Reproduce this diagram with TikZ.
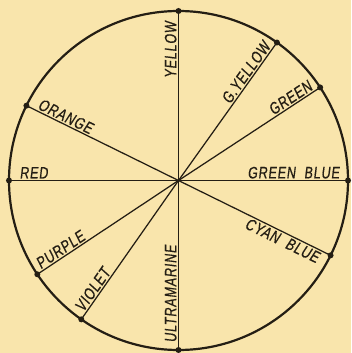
\documentclass[tikz,border=0pt]{standalone}
\usepackage{fontspec}
\newfontfamily\lblfont{Liberation Sans}[FakeStretch=0.76,FakeSlant=0.12,FakeBold=0.6,LetterSpace=5]
\definecolor{paper}{RGB}{249,229,172}
\definecolor{ink}{RGB}{36,30,20}

\begin{document}
\begin{tikzpicture}[x=1pt, y=1pt,
    lbl/.style={font=\lblfont\fontsize{16.5}{16.5}\selectfont, text=ink, inner xsep=0pt, inner ysep=1.8pt},
    spoke/.style={ink, line width=1.25pt}]
    \fill[paper] (-178.5,-172.5) rectangle (172.5,180.5);

    \coordinate (o) at (0,0);
    \coordinate (yellow) at (90:169.5);
    \coordinate (gyellow) at (54.5:169.5);
    \coordinate (green) at (33.3:169.5);
    \coordinate (greenblue) at (0:169.5);
    \coordinate (cyanblue) at (-26.2:169.5);
    \coordinate (ultramarine) at (-90:169.5);
    \coordinate (violet) at (235:169.5);
    \coordinate (purple) at (213.6:169.5);
    \coordinate (red) at (180:169.5);
    \coordinate (orange) at (153.8:169.5);

    \draw[ink, line width=2.2pt] (o) circle (169.5);

    % spokes
    \draw[spoke] (yellow) -- (o);
    \draw[spoke] (gyellow) -- (o);
    \draw[spoke] (green) -- (o);
    \draw[spoke] (greenblue) -- (o);
    \draw[spoke] (cyanblue) -- (o);
    \draw[spoke] (ultramarine) -- (o);
    \draw[spoke] (violet) -- (o);
    \draw[spoke] (purple) -- (o);
    \draw[spoke] (red) -- (o);
    \draw[spoke] (orange) -- (o);

    \foreach \p in {yellow,gyellow,green,greenblue,cyanblue,ultramarine,violet,purple,red,orange}
        \fill[ink] (\p) circle (3);

    % labels
    \node[lbl, rotate=90, anchor=south east] (lyellow) at (90:159) {YELLOW};
    \node[lbl, rotate=54.5, anchor=south east] (lgyellow) at (54.5:163) {G.YELLOW};
    \node[lbl, rotate=33.3, anchor=south east] (lgreen) at (33.3:163) {GREEN};
    \node[lbl, rotate=0, anchor=south east] (lgreenblue) at (0:161) {GREEN\ \ BLUE};
    \node[lbl, rotate=-26.2, anchor=north east] (lcyanblue) at (-26.2:160) {CYAN\ \ BLUE};
    \node[lbl, rotate=90, anchor=south west] (lultramarine) at (-90:162) {ULTRAMARINE};
    \node[lbl, rotate=55, anchor=south west] (lviolet) at (235:163) {VIOLET};
    \node[lbl, rotate=33.6, anchor=south west] (lpurple) at (213.6:164) {PURPLE};
    \node[lbl, rotate=0, anchor=south west] (lred) at (180:159) {RED};
    \node[lbl, rotate=-26.2, anchor=south west] (lorange) at (153.8:159) {ORANGE};
\end{tikzpicture}
\end{document}
